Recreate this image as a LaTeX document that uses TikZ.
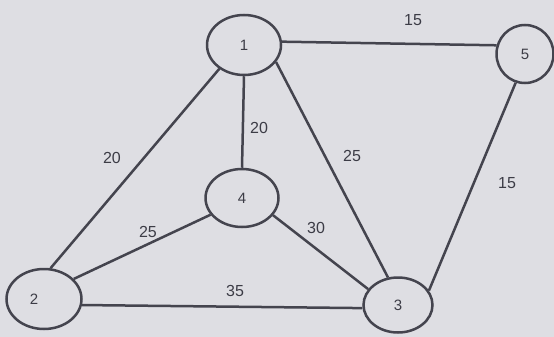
\documentclass[tikz,border=0pt]{standalone}
\usepackage{fontspec}
\setmainfont{Liberation Sans}
\usetikzlibrary{shapes.geometric}
\definecolor{paper}{RGB}{222,222,227}
\definecolor{ink}{RGB}{68,68,78}
\definecolor{txt}{RGB}{60,60,70}
\begin{document}
\begin{tikzpicture}[x=1pt,y=-1pt,
  vtx/.style={draw=ink,line width=2.5pt,ellipse,inner sep=0pt,text=txt,font=\fontsize{15}{15}\selectfont},
  wt/.style={text=txt,font=\fontsize{16}{16}\selectfont,inner sep=0pt},
  edge/.style={draw=ink,line width=2.5pt}]
\fill[paper] (0,0) rectangle (554,337);
\useasboundingbox (0,0) rectangle (554,337);
\node[vtx,minimum width=74pt,minimum height=60pt] (n1) at (244,45) {1};
\node[vtx,minimum width=57pt,minimum height=58pt] (n5) at (525,54) {5};
\node[vtx,minimum width=73pt,minimum height=58pt] (n4) at (242,198) {4};
\node[vtx,minimum width=75pt,minimum height=60pt] (n2) at (44,299) {2\kern20pt};
\node[vtx,minimum width=69pt,minimum height=55pt] (n3) at (398,305) {3};
\draw[edge] (n1.5) -- (n5.163);
\draw[edge] (n1.south) -- (n4.north);
\draw[edge] (n1.224) -- (n2.78);
\draw[edge] (n1.332) -- (n3.110);
\draw[edge] (n5.252) -- (n3.25);
\draw[edge] (n4.208) -- (n2.34);
\draw[edge] (n4.331) -- (n3.152);
\draw[edge] (n2.351) -- (n3.185);
\node[wt] (w15a) at (413,20) {15};
\node[wt] (w20a) at (259,128) {20};
\node[wt] (w20b) at (112,158) {20};
\node[wt] (w25a) at (352,156) {25};
\node[wt] (w15b) at (507,183) {15};
\node[wt] (w25b) at (148,232) {25};
\node[wt] (w30) at (316,228) {30};
\node[wt] (w35) at (235,291) {35};
\end{tikzpicture}
\end{document}
